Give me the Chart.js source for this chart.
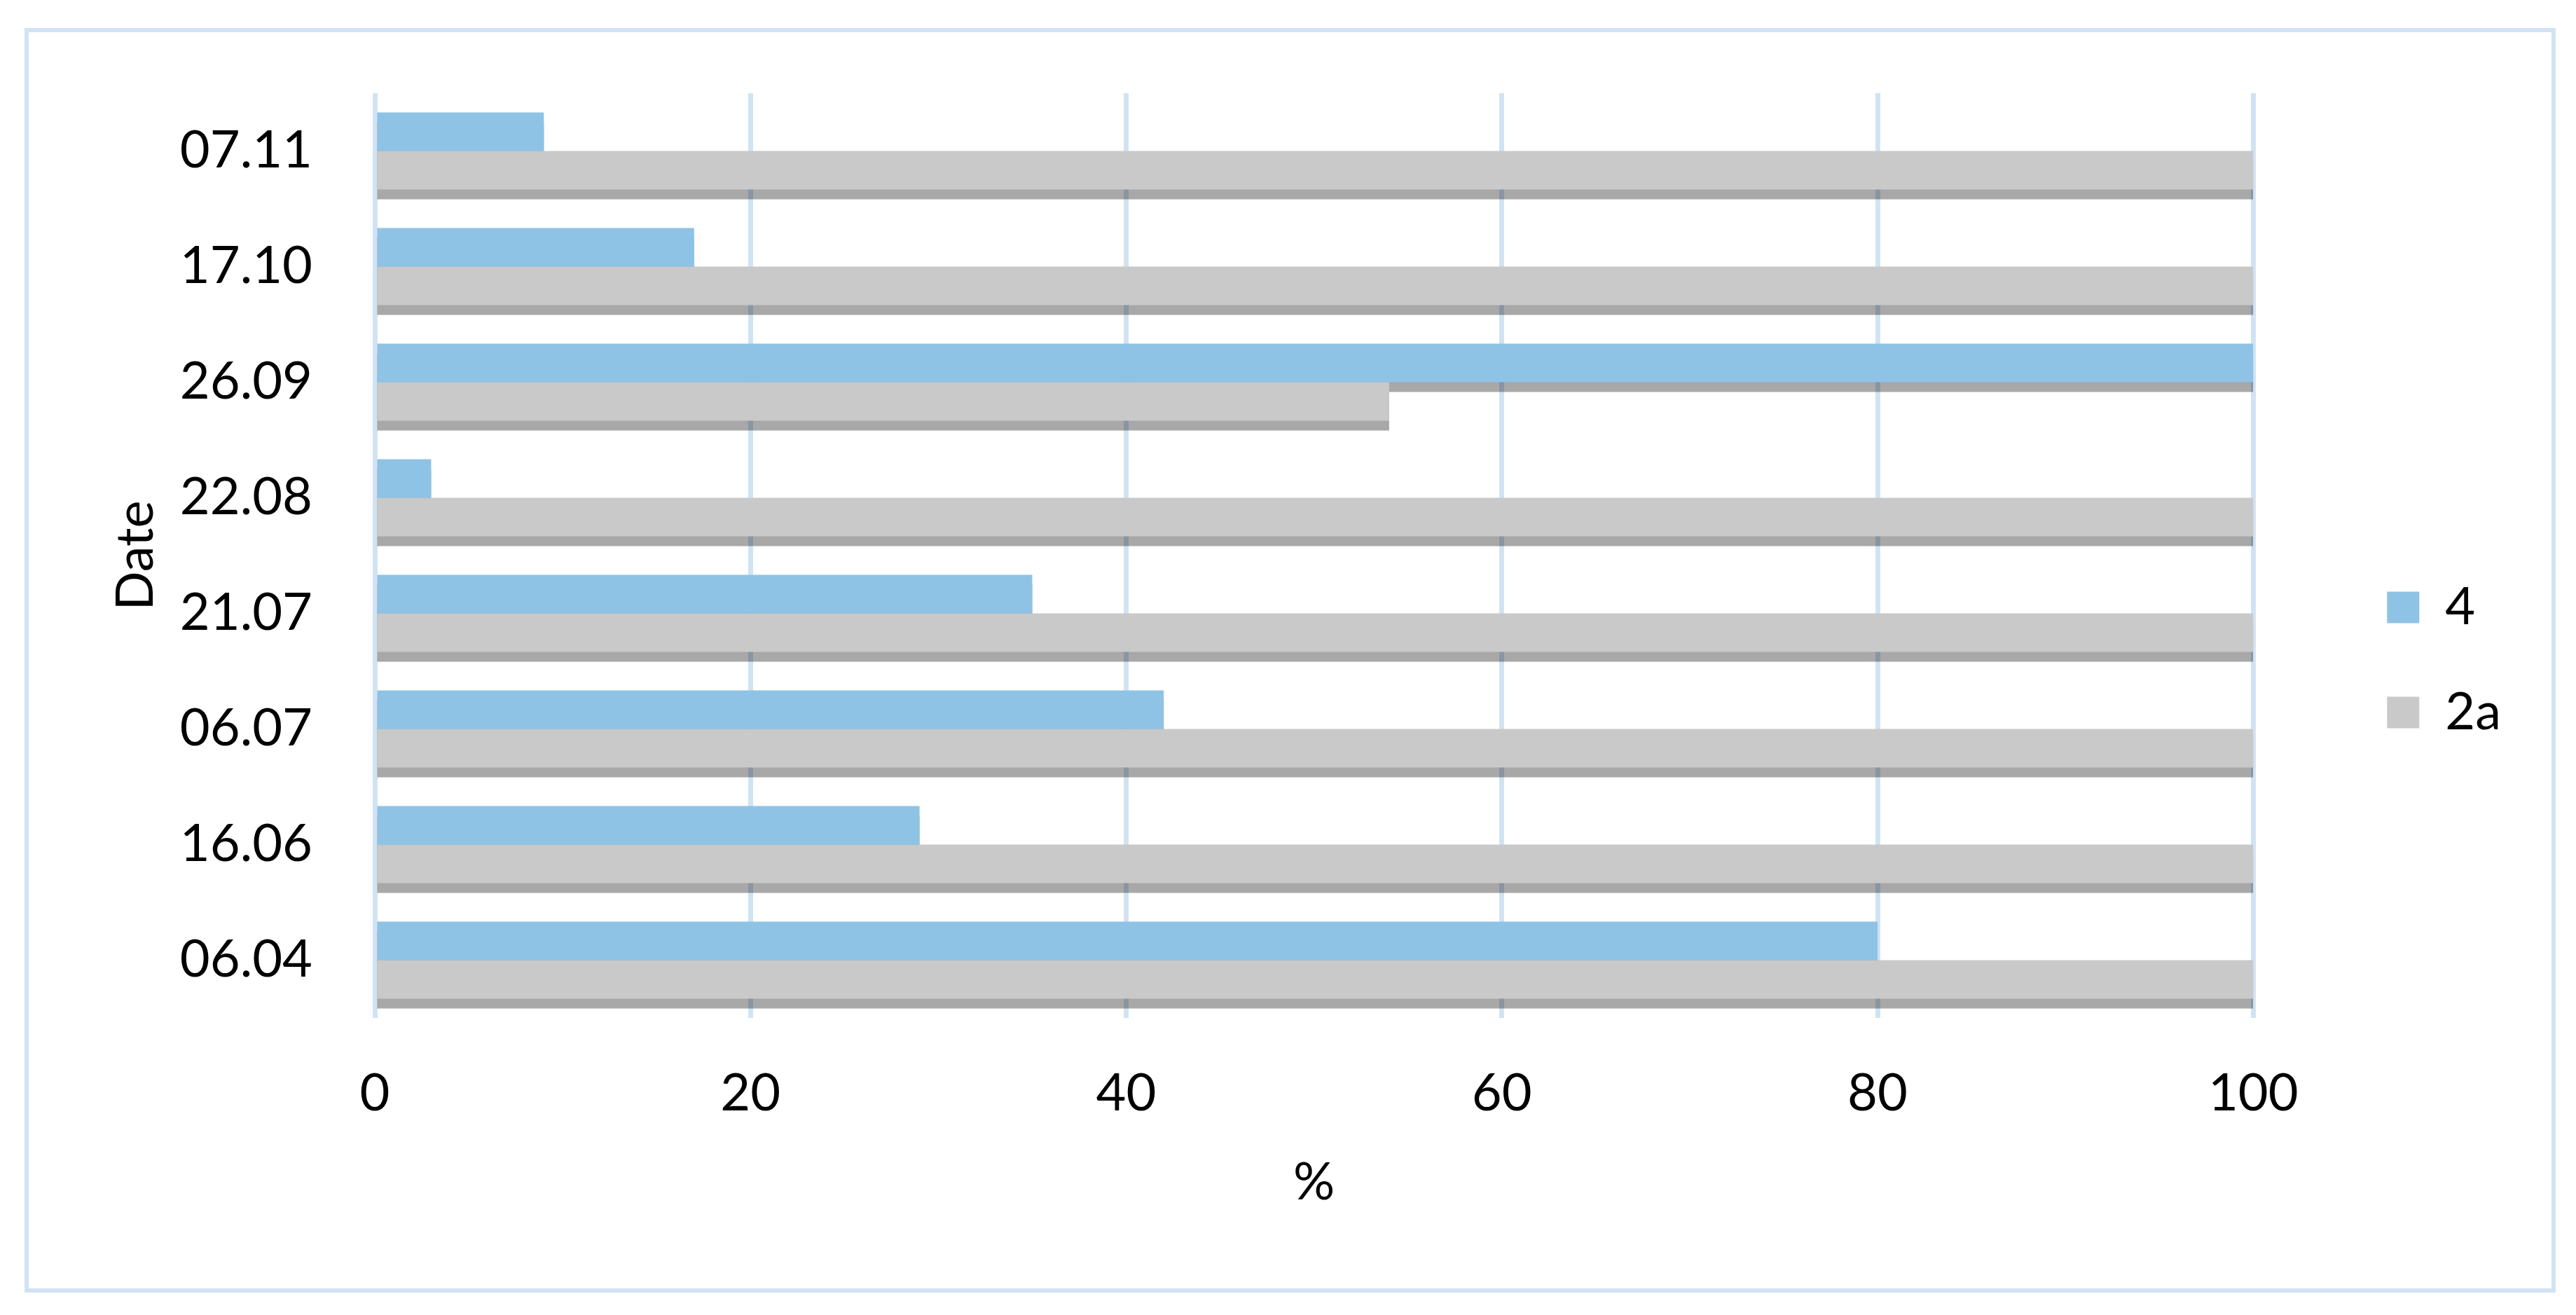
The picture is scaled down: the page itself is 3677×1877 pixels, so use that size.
<!DOCTYPE html>
<html>
<head>
<meta charset="utf-8">
<script src="https://cdn.jsdelivr.net/npm/chart.js@4/dist/chart.umd.min.js"></script>
<style>
  html, body { margin: 0; padding: 0; background: #fff; }
  #wrap { width: 3677px; height: 1877px; }
</style>
</head>
<body>
<div id="wrap"><canvas id="chart" width="3677" height="1877"></canvas></div>
<script>
// bottom to top
const dates = ['06.04', '16.06', '06.07', '21.07', '22.08', '26.09', '17.10', '07.11'];
const series4 = [80, 29, 42, 35, 3, 100, 17, 9];
const series2a = [100, 100, 100, 100, 100, 54, 100, 100];
const xTicks = [0, 20, 40, 60, 80, 100];

const blue = '#8EC3E6';
const grey = '#C9C9C9';
const paleBlue = '#D0E3F3';

Chart.defaults.font.family = 'Lato, "Open Sans", sans-serif';
Chart.defaults.font.size = 74;
Chart.defaults.color = '#000';

// excel-like flat drop shadow: paint every bar's shadow first, bars then cover them
const barShadow = {
  id: 'barShadow',
  beforeDatasetsDraw(chart) {
    const ctx = chart.ctx;
    const a = chart.chartArea;
    ctx.save();
    ctx.beginPath();
    ctx.rect(a.left, a.top, a.right - a.left, a.bottom - a.top + 20);
    ctx.clip();
    ctx.fillStyle = 'rgba(0,0,0,0.34)';
    chart.data.datasets.forEach((ds, i) => {
      chart.getDatasetMeta(i).data.forEach(bar => {
        const p = bar.getProps(['x', 'y', 'base', 'height'], true);
        const left = Math.min(p.base, p.x);
        ctx.fillRect(left, p.y - p.height / 2 + 14, Math.abs(p.x - p.base), p.height);
      });
    });
    ctx.restore();
  }
};

const frame = {
  id: 'frame',
  beforeDraw(chart) {
    const ctx = chart.ctx;
    ctx.save();
    ctx.fillStyle = '#fff';
    ctx.fillRect(0, 0, chart.width, chart.height);
    ctx.strokeStyle = paleBlue;
    ctx.lineWidth = 6;
    ctx.strokeRect(38, 43, 3607, 1799);
    ctx.restore();
  }
};

new Chart(document.getElementById('chart'), {
  type: 'bar',
  data: {
    labels: dates,
    datasets: [
      { label: '4', data: series4, backgroundColor: blue },
      { label: '2a', data: series2a, backgroundColor: grey }
    ]
  },
  options: {
    indexAxis: 'y',
    responsive: false,
    animation: false,
    devicePixelRatio: 1,
    layout: { padding: { left: 60, right: 97, top: 133, bottom: 126 } },
    datasets: {
      bar: { barPercentage: 1, categoryPercentage: 0.667, borderWidth: 0 }
    },
    scales: {
      y: {
        type: 'category',
        reverse: true,
        grid: { display: false },
        border: { display: false },
        ticks: { padding: 81 },
        title: { display: true, text: 'Date', padding: { top: 90, bottom: 0 } },
        afterFit(s) { s.width = 475; }
      },
      gap: {
        type: 'linear',
        position: 'right',
        display: true,
        grid: { display: false },
        border: { display: false },
        ticks: { display: false },
        afterFit(s) { s.width = 115; }
      },
      x: {
        type: 'linear',
        min: 0,
        max: 100,
        afterBuildTicks(s) { s.ticks = xTicks.map(v => ({ value: v })); },
        grid: { color: paleBlue, lineWidth: 7, drawTicks: false },
        border: { display: false },
        ticks: { padding: 64 },
        title: { display: true, text: '%', padding: { top: 0, bottom: 18 } },
        afterFit(s) { s.height = 298; }
      }
    },
    plugins: {
      legend: {
        position: 'right',
        labels: { boxWidth: 46, boxHeight: 45, padding: 76, font: { size: 74 } }
      },
      tooltip: { enabled: false }
    }
  },
  plugins: [frame, barShadow]
});
</script>
</body>
</html>
